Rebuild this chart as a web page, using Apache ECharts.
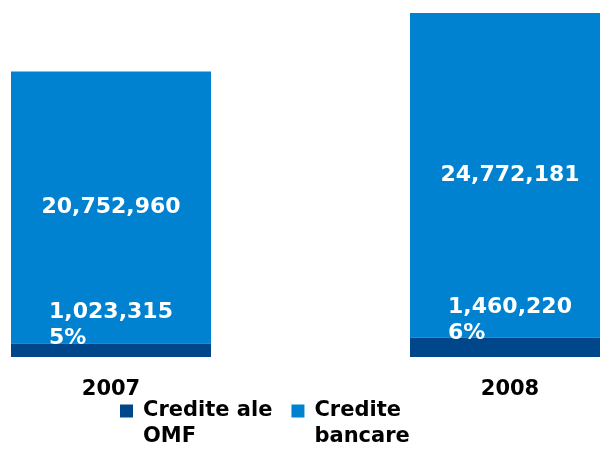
<!DOCTYPE html>
<html>
<head>
<meta charset="utf-8">
<script src="https://cdn.jsdelivr.net/npm/echarts@6/dist/echarts.min.js"></script>
<style>html,body{margin:0;padding:0;background:#fff}#c{width:600px;height:449px}</style>
</head>
<body>
<div id="c"></div>
<script>
const categories = ['2007', '2008'];
const seriesNames = ['Credite ale OMF', 'Credite bancare'];
const legendLine1 = ['Credite ale', 'Credite'];
const legendLine2 = ['OMF', 'bancare'];
const omfValues = [1023315, 1460220];
const bankValues = [20752960, 24772181];

const fmt = v => v.toLocaleString('en-US');
const FONT = '"DejaVu Sans"';

const chart = echarts.init(document.getElementById('c'));
chart.setOption({
  animation: false,
  grid: { left: 111, right: 90, top: 13, bottom: 92 },
  legend: {
    data: seriesNames,
    left: 120,
    top: 400,
    padding: 0,
    itemWidth: 13,
    itemHeight: 13,
    itemGap: 19,
    icon: 'rect',
    formatter: name => {
      const i = seriesNames.indexOf(name);
      return '{a|' + legendLine1[i] + '}\n{b|' + legendLine2[i] + '}';
    },
    textStyle: {
      fontFamily: FONT, fontWeight: 700, fontSize: 21, color: '#000',
      padding: [0, 0, 0, 5],
      rich: {
        a: { fontFamily: FONT, fontWeight: 700, fontSize: 21, color: '#000', lineHeight: 52 },
        b: { fontFamily: FONT, fontWeight: 700, fontSize: 21, color: '#000', lineHeight: 1 }
      }
    }
  },
  xAxis: {
    type: 'category',
    data: categories,
    boundaryGap: false,
    axisLine: { show: false },
    axisTick: { show: false },
    axisLabel: { fontFamily: FONT, fontWeight: 700, fontSize: 21, color: '#000', margin: 22 }
  },
  yAxis: {
    type: 'value',
    min: 0,
    max: 'dataMax',
    show: false,
    splitLine: { show: false }
  },
  series: [
    {
      name: seriesNames[0],
      type: 'bar',
      stack: 'total',
      data: omfValues,
      barWidth: 200,
      clip: false,
      z: 3,
      itemStyle: { color: '#00468A' },
      label: {
        show: true,
        position: 'top',
        distance: -8,
        formatter: p => {
          const pct = Math.round(p.value / (p.value + bankValues[p.dataIndex]) * 100);
          return '{a|' + fmt(p.value) + '}\n{a|' + pct + '%}';
        },
        rich: { a: { align: 'left', fontFamily: FONT, fontWeight: 700, fontSize: 22, color: '#fff', lineHeight: 26 } }
      }
    },
    {
      name: seriesNames[1],
      type: 'bar',
      stack: 'total',
      data: bankValues,
      barWidth: 200,
      clip: false,
      itemStyle: { color: '#0082D0' },
      label: {
        show: true,
        position: 'inside',
        formatter: p => fmt(p.value),
        fontFamily: FONT, fontWeight: 700, fontSize: 22, color: '#fff'
      }
    }
  ]
});
</script>
</body>
</html>
